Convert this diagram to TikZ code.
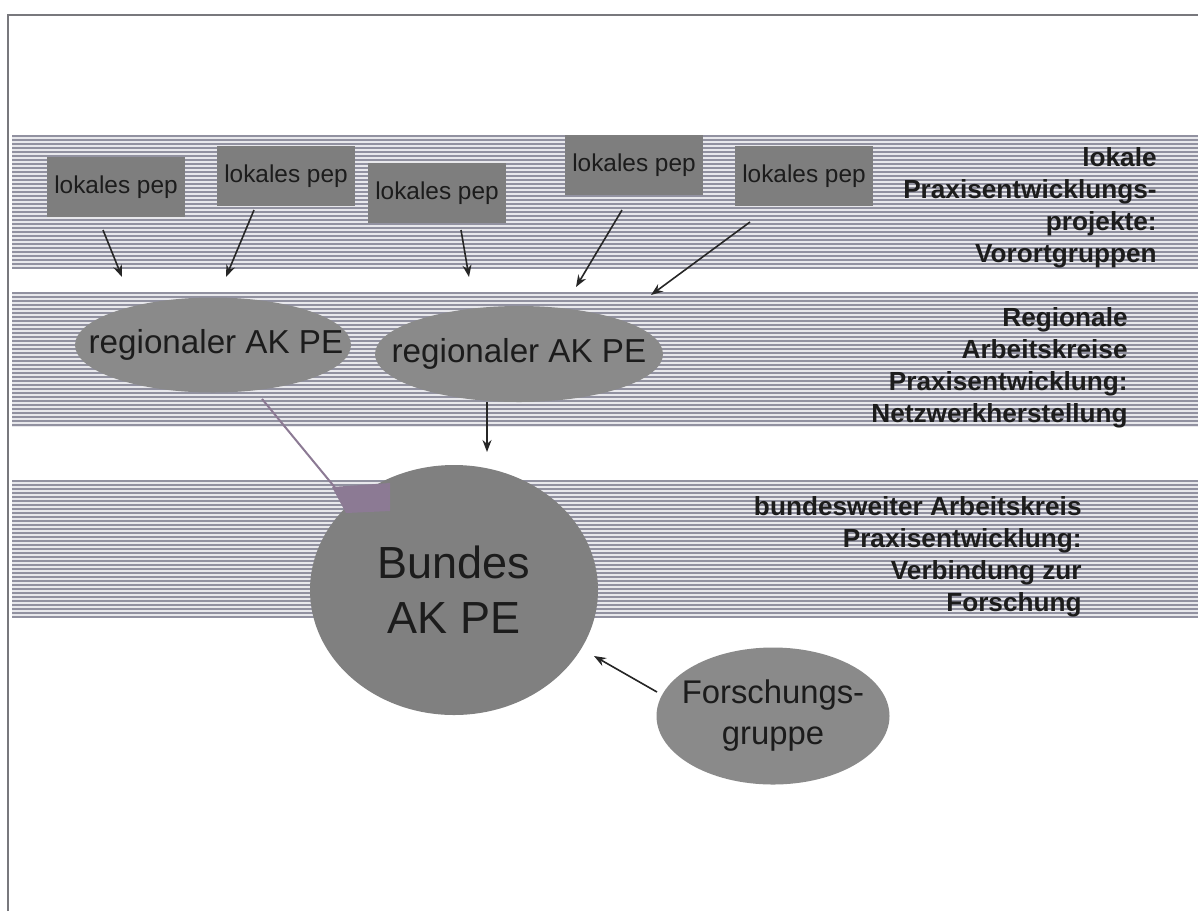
\documentclass[tikz,border=0pt]{standalone}
\usepackage{fontspec}
\setmainfont{Liberation Sans}
\usetikzlibrary{shapes.geometric,arrows.meta}
\definecolor{boxgray}{RGB}{126,126,126}
\definecolor{ellgray}{RGB}{138,138,138}
\definecolor{bundgray}{RGB}{128,128,128}
\definecolor{stripe}{RGB}{145,145,160}
\definecolor{bandbg}{RGB}{232,232,236}
\definecolor{purp}{RGB}{140,122,148}
\definecolor{txt}{RGB}{28,28,28}
\definecolor{framegray}{RGB}{120,120,125}
\begin{document}
\begin{tikzpicture}[x=0.5pt,y=-0.5pt,
  pepbox/.style={rectangle, fill=boxgray, minimum width=69pt, minimum height=30pt, inner sep=0pt, text=txt, font=\fontsize{12.2}{14}\selectfont},
  regell/.style={ellipse, fill=ellgray, minimum width=138pt, minimum height=47.5pt, inner sep=0pt, text=txt, font=\fontsize{16.6}{19}\selectfont},
  bundell/.style={ellipse, fill=bundgray, minimum width=144pt, minimum height=125pt, inner sep=0pt, text=txt, align=center, font=\fontsize{22.5}{27.5}\selectfont},
  forell/.style={ellipse, fill=ellgray, minimum width=116.5pt, minimum height=68.5pt, inner sep=0pt, text=txt, align=center, font=\fontsize{16.4}{20.5}\selectfont},
  sidelabel/.style={anchor=east, align=right, inner sep=0pt, text=txt, font=\fontsize{13.1}{16}\selectfont\bfseries},
  arr/.style={-{Stealth[length=6pt,width=4.5pt]}, line width=0.8pt, draw=black!85}
]
\useasboundingbox (0,0) rectangle (1198,911);
\fill[white] (0,0) rectangle (1198,911);
% striped bands
\foreach \t/\n/\b in {135/33/268, 292/33/427, 480/34/618}{
  \fill[bandbg] (12,\t) rectangle (1198,\b);
  \foreach \k in {0,...,\n}{
    \draw[stripe, line width=0.6pt] (12,{\t+4*\k+1}) -- (1198,{\t+4*\k+1});
  }
}
% frame
\draw[framegray, line width=1.2pt] (8,911) -- (8,15) -- (1198,15);

% local boxes
\node[pepbox] (p1) at (116,187) {lokales pep};
\node[pepbox] (p2) at (286,176) {lokales pep};
\node[pepbox] (p3) at (437,193) {lokales pep};
\node[pepbox] (p4) at (634,165) {lokales pep};
\node[pepbox] (p5) at (804,176) {lokales pep};

% regional ellipses
\node[regell] (r1) at (213,345) {\makebox[0pt]{\hspace*{3pt}regionaler AK PE}};
\node[regell, minimum width=144pt, minimum height=48pt] (r2) at (519,354) {\makebox[0pt]{regionaler AK PE}};

% purple connector
\coordinate (pe) at (337,490);
\draw[purp, line width=1pt] (r1.south -| 262,0) ++(0,6) -- (pe);

% federal circle
\node[bundell] (b) at (454,590) {\makebox[0pt]{Bundes}\\\makebox[0pt]{AK PE}};
\fill[purp] (332,487) -- (390,483) -- (390,511) -- (346,513) -- cycle;

% research group
\node[forell] (f) at (773,716) {\makebox[0pt]{Forschungs-}\\\makebox[0pt]{gruppe}};

% arrows from local boxes
\coordinate (a1s) at (103,230); \coordinate (a1e) at (122,277);
\coordinate (a2s) at (254,210); \coordinate (a2e) at (226,277);
\coordinate (a3s) at (461,230); \coordinate (a3e) at (469,277);
\coordinate (a4s) at (622,210); \coordinate (a4e) at (576,287);
\coordinate (a5s) at (750,222); \coordinate (a5e) at (651,295);
\draw[arr] (a1s) -- (a1e);
\draw[arr] (a2s) -- (a2e);
\draw[arr] (a3s) -- (a3e);
\draw[arr] (a4s) -- (a4e);
\draw[arr] (a5s) -- (a5e);
% regional to federal
\coordinate (a6e) at (487,452);
\draw[arr] (a6e |- r2.south) -- (a6e);
% research to federal
\coordinate (a7s) at (657,692); \coordinate (a7e) at (594,656);
\draw[arr] (a7s) -- (a7e);

% side labels
\node[sidelabel] (l1) at (1157,208) {lokale\\Praxisentwicklungs-\\projekte:\\Vorortgruppen};
\node[sidelabel] (l2) at (1128,368) {Regionale\\Arbeitskreise\\Praxisentwicklung:\\Netzwerkherstellung};
\node[sidelabel] (l3) at (1082,557) {bundesweiter Arbeitskreis\\Praxisentwicklung:\\Verbindung zur\\Forschung};
\end{tikzpicture}
\end{document}
